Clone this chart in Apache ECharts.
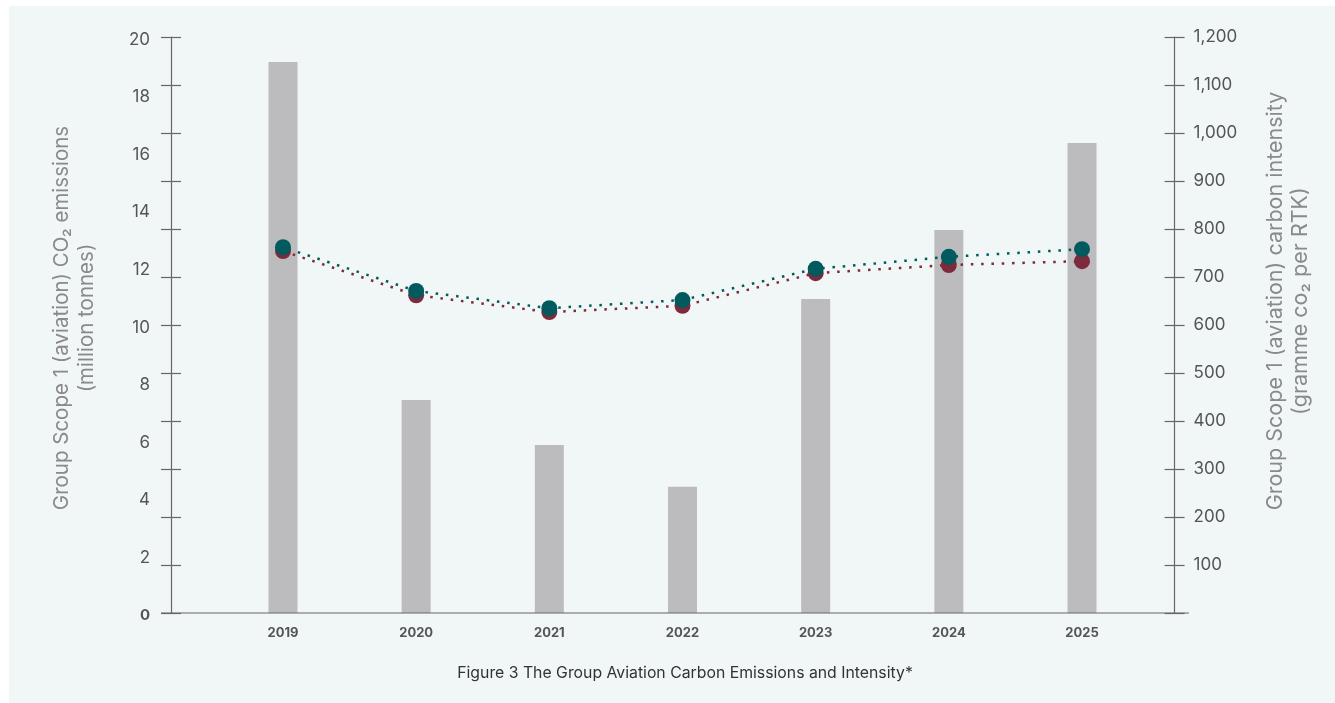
<!DOCTYPE html>
<html>
<head>
<meta charset="utf-8">
<script src="https://cdn.jsdelivr.net/npm/echarts@6/dist/echarts.min.js"></script>
<style>
html,body{margin:0;padding:0;background:#ffffff;width:1335px;height:703px;overflow:hidden;}
#panel{position:absolute;left:9px;top:6px;width:1326px;height:697px;background:#f1f6f6;}
#chart{position:absolute;left:0;top:0;width:1335px;height:703px;}
</style>
</head>
<body>
<div id="panel"></div>
<div id="chart"></div>
<script>
// ---- data ----
const years = ['2019', '2020', '2021', '2022', '2023', '2024', '2025'];
const emissions = [19.13, 7.40, 5.83, 4.38, 10.9, 13.3, 16.32];          // million tonnes (bars, left axis)
const intensityTeal = [762, 671, 635, 652, 717, 742, 758];              // g CO2 per RTK (right axis)
const intensityRed = [754, 662, 627, 640, 708, 725, 733];               // g CO2 per RTK (right axis)
const leftTicks = { min: 0, max: 20, interval: 2 };
const rightTicks = { min: 0, max: 1200, interval: 100 };
const titleText = 'Figure 3 The Group Aviation Carbon Emissions and Intensity*';
const leftName = 'Group Scope 1 (aviation) CO\u2082 emissions\n(million tonnes)';
const rightName = 'Group Scope 1 (aviation) carbon intensity\n(gramme co\u2082 per RTK)';

const FONT = 'Inter, Roboto, sans-serif';
const AXIS_COLOR = '#666666';
const chart = echarts.init(document.getElementById('chart'), null, { renderer: 'canvas' });

const gridLeft = 216.4, gridRight = 186.4, gridTop = 37, gridBottom = 90;
const leftOffset = 45.4, rightOffset = 26;

function tickAxis(position, offset, inside) {
  return {
    type: 'value', position: position, offset: offset,
    min: rightTicks.min, max: rightTicks.max, interval: rightTicks.interval,
    axisLine: { show: false },
    axisTick: { show: true, inside: inside, length: 10, lineStyle: { color: AXIS_COLOR, width: 1.2 } },
    axisLabel: { show: false },
    splitLine: { show: false }
  };
}

const option = {
  animation: false,
  backgroundColor: 'transparent',
  title: {
    text: titleText,
    left: 680, top: 660, textAlign: 'center',
    textStyle: { fontFamily: FONT, fontSize: 15.8, fontWeight: 'normal', color: '#333333' }
  },
  grid: { left: gridLeft, right: gridRight, top: gridTop, bottom: gridBottom, containLabel: false },
  xAxis: {
    type: 'category', data: years, boundaryGap: true,
    axisLine: { show: false },
    axisTick: { show: false },
    axisLabel: { margin: 14, fontFamily: FONT, fontSize: 13, fontWeight: 'bold', color: '#555555' },
    splitLine: { show: false }
  },
  yAxis: [
    {
      type: 'value', position: 'left', offset: leftOffset,
      min: leftTicks.min, max: leftTicks.max, interval: leftTicks.interval,
      name: leftName, nameLocation: 'middle', nameRotate: 90, nameGap: 72,
      nameTextStyle: { fontFamily: FONT, fontSize: 20.5, color: '#8a8a8a', lineHeight: 25, padding: [0, 0, 0, 14] },
      axisLine: { show: true, lineStyle: { color: AXIS_COLOR, width: 1.2 } },
      axisTick: { show: false },
      axisLabel: {
        margin: 21, fontFamily: FONT, fontSize: 17, color: '#555555', padding: [5, 0, 0, 0],
        formatter: function (v) { return v === 0 ? '{b|0}' : String(v); },
        rich: { b: { fontFamily: FONT, fontSize: 15, fontWeight: 'bold', color: '#555555' } }
      },
      splitLine: { show: false }
    },
    {
      type: 'value', position: 'right', offset: rightOffset,
      min: rightTicks.min, max: rightTicks.max, interval: rightTicks.interval,
      name: rightName, nameLocation: 'middle', nameRotate: 90, nameGap: 88,
      nameTextStyle: { fontFamily: FONT, fontSize: 21.5, color: '#8a8a8a', lineHeight: 25, padding: [0, 0, 0, 48] },
      axisLine: { show: true, lineStyle: { color: AXIS_COLOR, width: 1.2 } },
      axisTick: { show: true, inside: false, length: 10, lineStyle: { color: AXIS_COLOR, width: 1.2 } },
      axisLabel: {
        margin: 19, fontFamily: FONT, fontSize: 17, color: '#555555', padding: [8, 0, 0, 0],
        formatter: function (v) { return v === 0 ? '' : v.toLocaleString('en-US'); }
      },
      splitLine: { show: false }
    },
    tickAxis('right', rightOffset, true),
    tickAxis('left', leftOffset, false),
    tickAxis('left', leftOffset, true)
  ],
  graphic: [
    {
      type: 'line', silent: true, z: 10,
      shape: { x1: 161, y1: 613, x2: 1189, y2: 613 },
      style: { stroke: AXIS_COLOR, lineWidth: 1.2 }
    }
  ],
  series: [
    {
      type: 'bar', name: 'Emissions', yAxisIndex: 0, data: emissions,
      barWidth: 29, itemStyle: { color: '#bcbcbe' }, z: 1
    },
    {
      type: 'line', name: 'Intensity (red)', yAxisIndex: 1, data: intensityRed,
      smooth: false, symbol: 'circle', symbolSize: 16,
      itemStyle: { color: '#7d2a3d' },
      lineStyle: { color: '#7d2a3d', width: 2.5, type: [2.5, 7.8] }, z: 3
    },
    {
      type: 'line', name: 'Intensity (teal)', yAxisIndex: 1, data: intensityTeal,
      smooth: false, symbol: 'circle', symbolSize: 16,
      itemStyle: { color: '#015b5e' },
      lineStyle: { color: '#015b5e', width: 2.5, type: [2.5, 7.8], dashOffset: 5 }, z: 4
    }
  ]
};
chart.setOption(option);
</script>
</body>
</html>
